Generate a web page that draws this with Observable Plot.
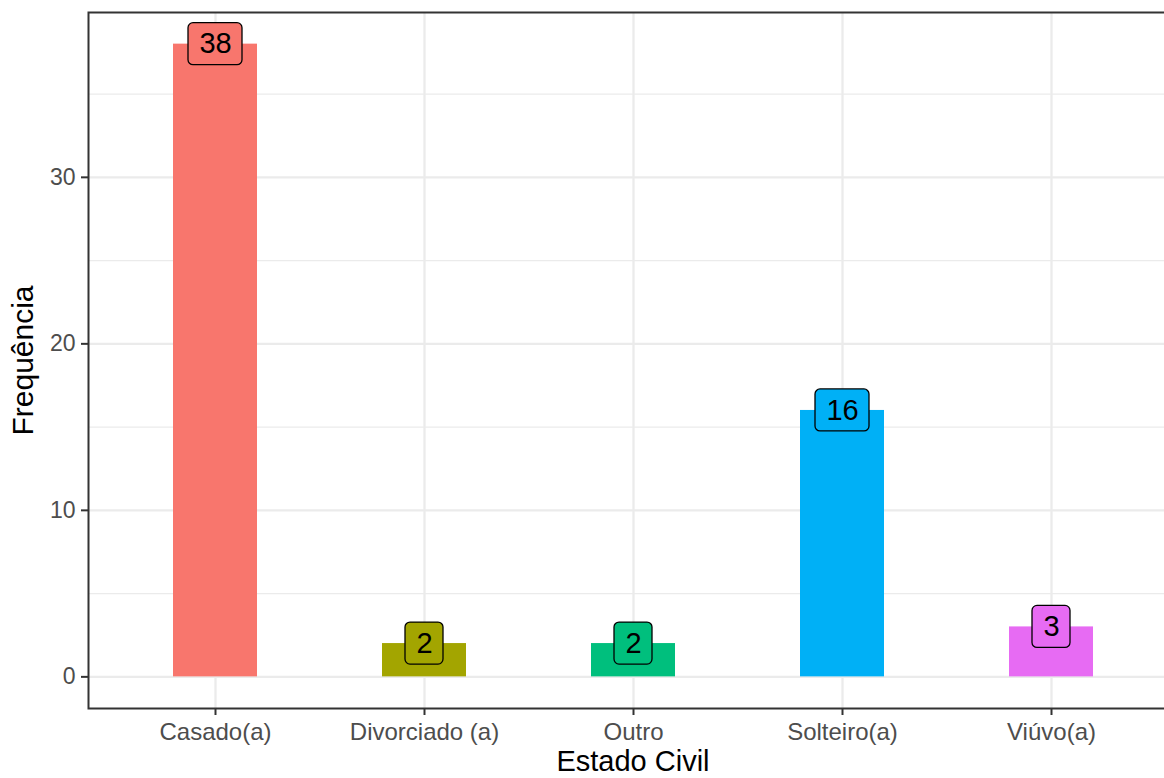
<!DOCTYPE html>
<html>
<head>
<meta charset="utf-8">
<script src="https://cdn.jsdelivr.net/npm/d3@7"></script>
<script src="https://cdn.jsdelivr.net/npm/@observablehq/plot@0.6"></script>
<style>
  html, body { margin: 0; padding: 0; background: white; overflow: hidden; }
  svg { overflow: hidden; }
</style>
</head>
<body>
<div id="chart"></div>
<script>
const categories = ["Casado(a)", "Divorciado (a)", "Outro", "Solteiro(a)", "Viúvo(a)"];
const counts = [38, 2, 2, 16, 3];
const colors = ["#F8766D", "#A3A500", "#00BF7D", "#00B0F6", "#E76BF3"];
const yMajorTicks = [0, 10, 20, 30];
const yMinorTicks = [5, 15, 25, 35];

const data = categories.map((c, i) => ({cat: c, n: counts[i], label: String(counts[i])}));
const twoDigit = data.filter(d => d.label.length === 2);
const oneDigit = data.filter(d => d.label.length === 1);

const font = "'Liberation Sans', Arial, sans-serif";

const labelBox = (rows, inset) => Plot.barY(rows, {
  x: "cat", y1: "n", y2: "n", fill: "cat",
  stroke: "black", strokeWidth: 1.3, rx: 5,
  insetLeft: inset, insetRight: inset, insetTop: -21, insetBottom: -21
});

const chart = Plot.plot({
  width: 1164,
  height: 778,
  marginLeft: 88,
  marginRight: -13,
  marginTop: 12,
  marginBottom: 70,
  style: {fontFamily: font, background: "white"},
  x: {domain: categories, paddingInner: 0.6, paddingOuter: 0.4, align: 0.5, label: null},
  y: {domain: [-1.9, 39.9], label: null},
  color: {domain: categories, range: colors},
  marks: [
    Plot.gridY(yMinorTicks, {stroke: "#EBEBEB", strokeOpacity: 1, strokeWidth: 1.2}),
    Plot.gridY(yMajorTicks, {stroke: "#EBEBEB", strokeOpacity: 1, strokeWidth: 2.3}),
    Plot.gridX(categories, {stroke: "#EBEBEB", strokeOpacity: 1, strokeWidth: 2.3}),
    Plot.barY(data, {x: "cat", y: "n", fill: "cat"}),
    labelBox(twoDigit, 15),
    labelBox(oneDigit, 23),
    Plot.text(data, {x: "cat", y: "n", text: "label", fontSize: 29, fill: "black"}),
    Plot.frame({stroke: "#333333", strokeWidth: 2}),
    Plot.axisY(yMajorTicks, {tickSize: 7, tickPadding: 6, fontSize: 23, color: "#4D4D4D", stroke: "#333333", strokeWidth: 2, label: null}),
    Plot.axisX({tickSize: 7, tickPadding: 7, fontSize: 24, color: "#4D4D4D", stroke: "#333333", strokeWidth: 2, label: null}),
    Plot.text(["Estado Civil"], {frameAnchor: "bottom", lineAnchor: "middle", textAnchor: "middle", dy: 53, fontSize: 29, fill: "black"}),
    Plot.text(["Frequência"], {frameAnchor: "left", lineAnchor: "middle", textAnchor: "middle", dx: -65, rotate: -90, fontSize: 30, fill: "black"})
  ]
});
document.getElementById("chart").appendChild(chart);
</script>
</body>
</html>
